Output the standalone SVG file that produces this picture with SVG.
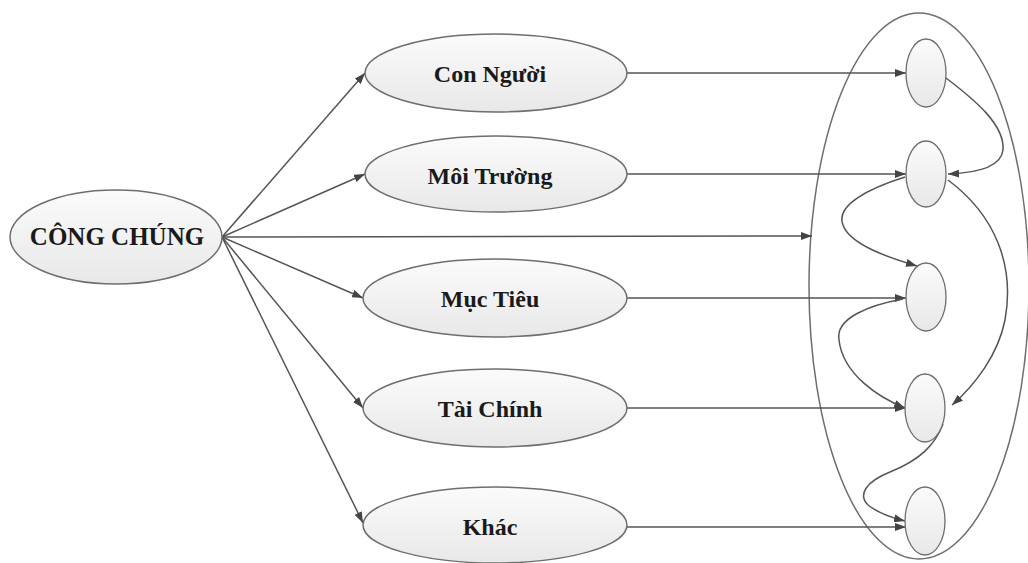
<svg xmlns="http://www.w3.org/2000/svg" width="1028" height="563" viewBox="0 0 1028 563">
<style>
.node{fill:url(#g);stroke:#6e6e6e;stroke-width:1.5}
.small{fill:url(#g);stroke:#6e6e6e;stroke-width:1.3}
.lbl{font-family:"Liberation Serif","Times New Roman",serif;font-weight:bold;font-size:24px;fill:#1a1a1a;text-anchor:middle}
.c{fill:none;stroke:#555;stroke-width:1.5;marker-end:url(#ah)}
</style>
<defs>
<linearGradient id="g" x1="0" y1="0" x2="0" y2="1">
<stop offset="0" stop-color="#fbfbfb"/>
<stop offset="1" stop-color="#e8e8e8"/>
</linearGradient>
<marker id="ah" markerUnits="userSpaceOnUse" markerWidth="11" markerHeight="8" refX="11" refY="4" orient="auto">
<path d="M0,0 L11,4 L0,8 z" fill="#444"/>
</marker>
</defs>
<rect width="1028" height="563" fill="#fff"/>
<g id="group">
<ellipse cx="919" cy="286" rx="110" ry="273" fill="none" stroke="#6e6e6e" stroke-width="1.5"/>
</g>
<g id="connectors">
<line class="c" x1="222" y1="237" x2="365" y2="73"/>
<line class="c" x1="222" y1="237" x2="365" y2="174"/>
<line class="c" x1="222" y1="237" x2="812" y2="236"/>
<line class="c" x1="222" y1="237" x2="363" y2="298"/>
<line class="c" x1="222" y1="237" x2="363" y2="408"/>
<line class="c" x1="222" y1="237" x2="363" y2="523"/>
<line class="c" x1="627" y1="73" x2="906" y2="73"/>
<line class="c" x1="627" y1="174" x2="906" y2="174"/>
<line class="c" x1="627" y1="298" x2="906" y2="298"/>
<line class="c" x1="627" y1="408" x2="906" y2="408"/>
<line class="c" x1="627" y1="527" x2="906" y2="527"/>
<path class="c" d="M946,78 C975,100 1005,125 1003,150 C1001,168 975,173 948,174"/>
<path class="c" d="M905,177 C870,188 835,205 843,225 C850,245 890,258 917,266"/>
<path class="c" d="M948,180 C995,215 1015,265 1005,320 C998,355 975,385 952,405"/>
<path class="c" d="M903,299 C870,305 835,318 839,340 C843,375 880,398 905,408"/>
<path class="c" d="M943,424 C935,445 920,460 890,472 C865,482 858,495 868,505 C878,513 893,518 905,521"/>
</g>
<g id="cong-chung"><ellipse class="node" cx="116" cy="237" rx="106" ry="47"/><text class="lbl" x="117" y="245" font-size="25" style="font-size:25px">CÔNG CHÚNG</text></g>
<g id="con-nguoi"><ellipse class="node" cx="496" cy="73" rx="131" ry="39"/><text class="lbl" x="490" y="82">Con Người</text></g>
<g id="moi-truong"><ellipse class="node" cx="496" cy="174" rx="131" ry="38"/><text class="lbl" x="490" y="184">Môi Trường</text></g>
<g id="muc-tieu"><ellipse class="node" cx="495" cy="298" rx="132" ry="39"/><text class="lbl" x="490" y="307">Mục Tiêu</text></g>
<g id="tai-chinh"><ellipse class="node" cx="495" cy="408" rx="132" ry="39"/><text class="lbl" x="490" y="417">Tài Chính</text></g>
<g id="khac"><ellipse class="node" cx="495" cy="525" rx="132" ry="38"/><text class="lbl" x="490" y="535">Khác</text></g>
<g id="s1"><ellipse class="small" cx="926" cy="73" rx="20" ry="34"/></g>
<g id="s2"><ellipse class="small" cx="926" cy="174" rx="20" ry="33"/></g>
<g id="s3"><ellipse class="small" cx="926" cy="297" rx="20" ry="34"/></g>
<g id="s4"><ellipse class="small" cx="925" cy="408" rx="20" ry="34"/></g>
<g id="s5"><ellipse class="small" cx="925" cy="521" rx="20" ry="34"/></g>
</svg>
